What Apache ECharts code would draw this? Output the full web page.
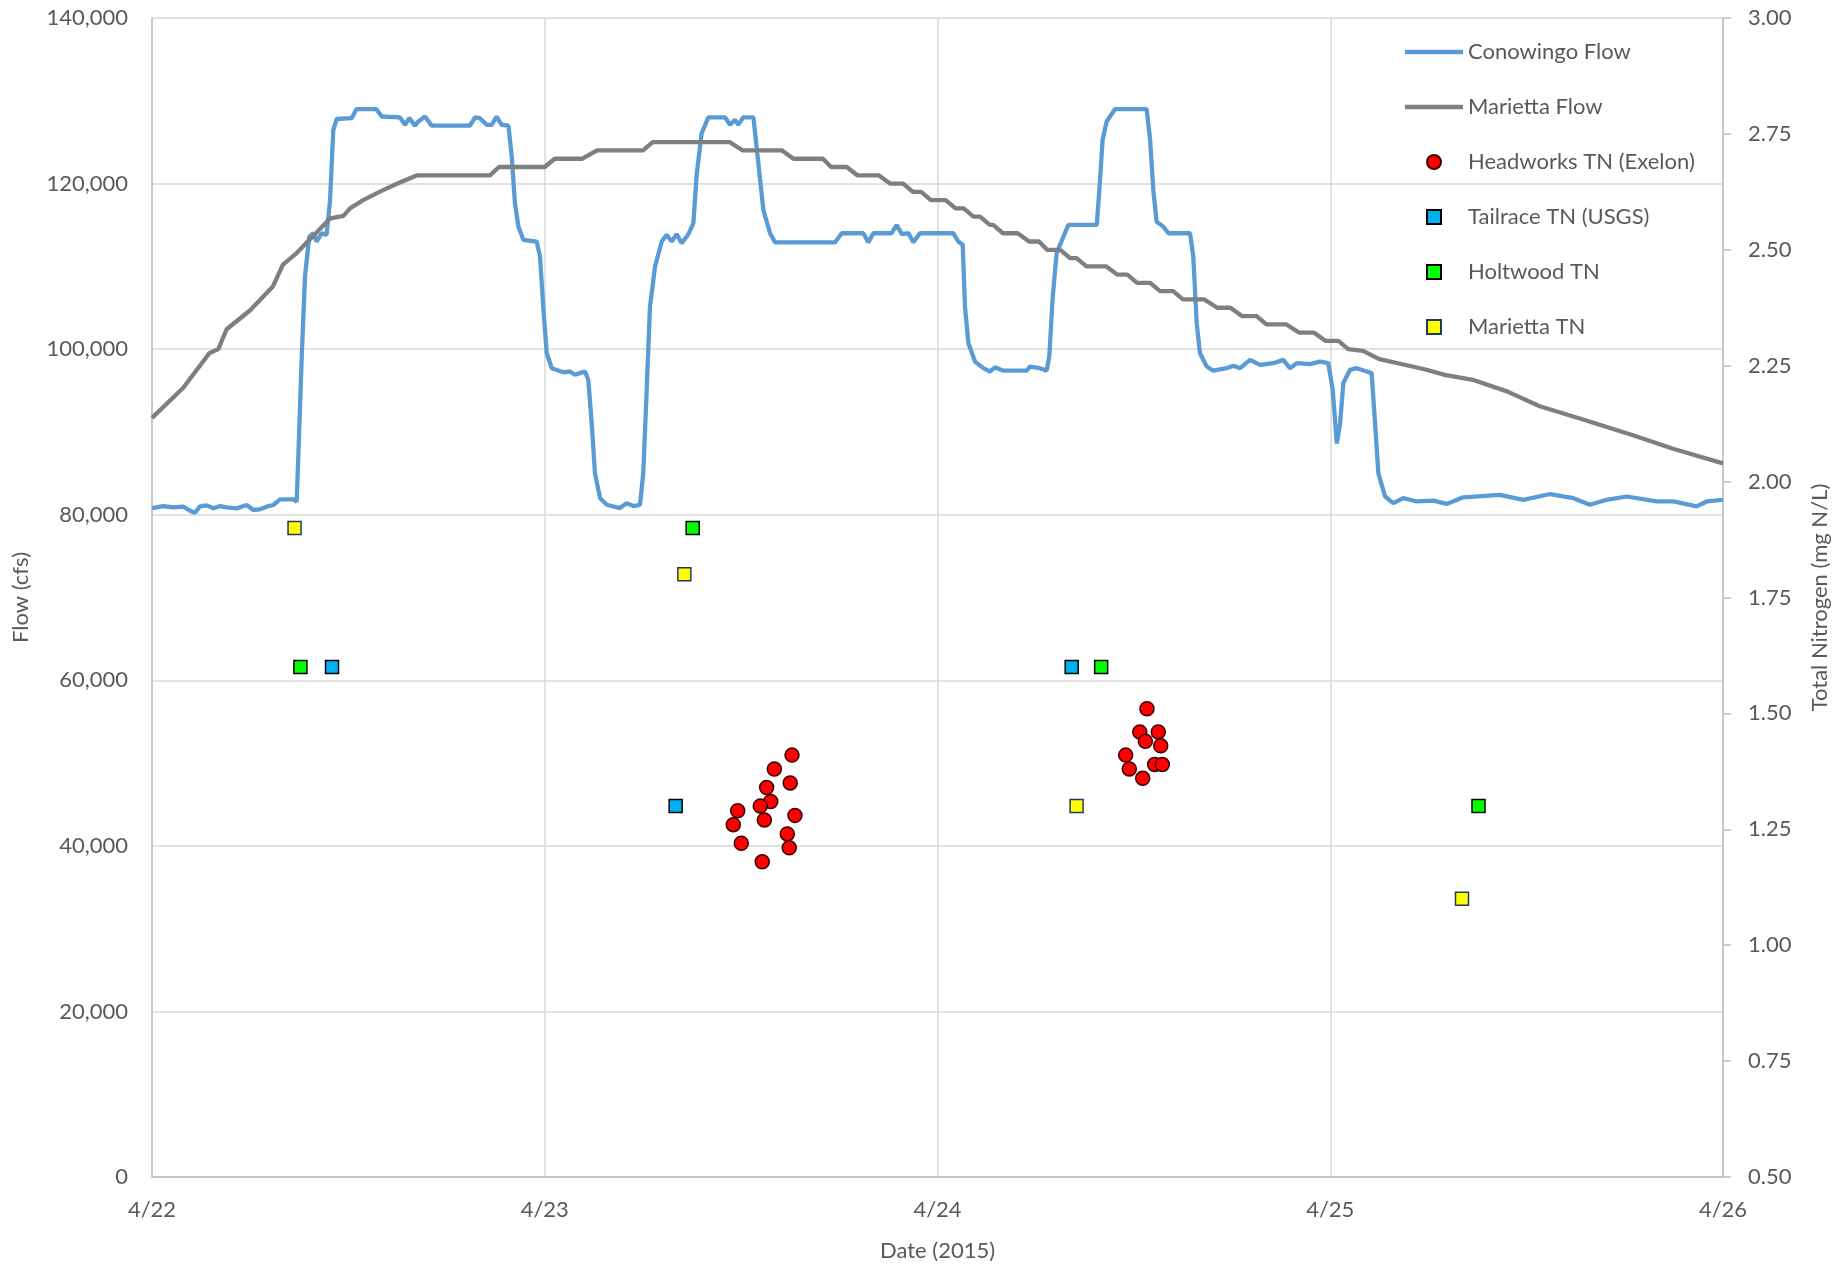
<!DOCTYPE html>
<html>
<head>
<meta charset="utf-8">
<title>Conowingo / Marietta flow and TN</title>
<script src="https://cdn.jsdelivr.net/npm/echarts@6.0.0/dist/echarts.min.js"></script>
<style>
  html, body { margin: 0; padding: 0; background: #fff; }
  #chart { width: 1847px; height: 1267px; }
</style>
</head>
<body>
<div id="chart"></div>
<script>
// x values are hours after 4/22 00:00
let dayLabels = ['4/22', '4/23', '4/24', '4/25', '4/26'];

// [hour, cfs]
let conowingoFlow = [
    [0, 80800], [0.69, 81050], [1.30, 80890], [1.91, 80970], [2.32, 80490], [2.63, 80240],
    [2.93, 81000], [3.34, 81130], [3.75, 80770], [4.16, 81050], [4.56, 80890], [5.18, 80770],
    [5.79, 81170], [6.19, 80570], [6.60, 80650], [7.01, 80970], [7.41, 81170], [7.82, 81860],
    [8.63, 81860], [8.84, 81570], [8.94, 87000], [9.15, 99100], [9.35, 108800], [9.61, 113600],
    [9.86, 114000], [10.06, 113000], [10.37, 114000], [10.67, 113800], [10.88, 118000], [11.08, 126500],
    [11.29, 127800], [12.2, 127900], [12.5, 129000], [13.7, 129000], [14.04, 128100], [15.15, 128000],
    [15.46, 127100], [15.72, 127900], [16.07, 127000], [16.27, 127500], [16.68, 128100], [17.09, 127000],
    [19.43, 127000], [19.74, 128000], [20.04, 127900], [20.45, 127100], [20.76, 127100], [21.06, 128100],
    [21.37, 127100], [21.78, 127000], [21.98, 123300], [22.18, 117600], [22.39, 114800], [22.69, 113200],
    [23.51, 113000], [23.71, 111200], [23.91, 105100], [24.12, 99500], [24.43, 97700], [25.13, 97200],
    [25.54, 97300], [25.85, 96900], [26.15, 97100], [26.46, 97300], [26.66, 96300], [26.87, 91000],
    [27.07, 85000], [27.38, 82000], [27.79, 81200], [28.6, 80800], [29.01, 81400], [29.41, 81050],
    [29.82, 81200], [30.02, 85000], [30.23, 95100], [30.43, 105100], [30.74, 110000], [31.15, 113000],
    [31.45, 113800], [31.76, 113000], [32.06, 113900], [32.37, 112800], [32.78, 113900], [33.08, 115200],
    [33.29, 121200], [33.59, 126100], [34.0, 128000], [35.02, 128000], [35.32, 127100], [35.63, 127700],
    [35.83, 127100], [36.13, 128000], [36.75, 128000], [37.05, 122500], [37.36, 116800], [37.77, 114000],
    [38.07, 112900], [40.21, 112900], [41.74, 112900], [42.15, 114000], [43.47, 114000], [43.77, 112900],
    [44.08, 114000], [45.2, 114000], [45.51, 115000], [45.81, 113900], [46.22, 114000], [46.52, 112900],
    [46.93, 114000], [48.97, 114000], [49.27, 113000], [49.54, 112600], [49.68, 105100], [49.89, 100700],
    [50.29, 98500], [50.80, 97700], [51.21, 97300], [51.51, 97800], [52.02, 97400], [53.45, 97400],
    [53.65, 97900], [54.26, 97700], [54.67, 97400], [54.83, 99100], [55.04, 106300], [55.28, 111600],
    [55.99, 115000], [57.73, 115000], [57.89, 119200], [58.09, 125300], [58.34, 127500], [58.85, 129000],
    [60.78, 129000], [60.99, 125300], [61.19, 119200], [61.39, 115400], [61.80, 114800], [62.11, 114000],
    [63.43, 114000], [63.63, 111200], [63.84, 103100], [64.04, 99500], [64.45, 97900], [64.85, 97400],
    [65.67, 97700], [66.08, 98000], [66.49, 97700], [67.1, 98700], [67.71, 98100], [68.52, 98300],
    [69.13, 98700], [69.54, 97700], [69.95, 98300], [70.76, 98200], [71.37, 98500], [71.88, 98300],
    [72.15, 95100], [72.4, 88600], [72.6, 91000], [72.8, 95900], [73.21, 97500], [73.62, 97700],
    [74.23, 97300], [74.53, 97100], [74.74, 91000], [74.94, 85000], [75.35, 82200], [75.85, 81400],
    [76.47, 82000], [77.28, 81600], [78.30, 81700], [79.11, 81300], [80.13, 82100], [82.37, 82400],
    [83.80, 81800], [85.43, 82500], [86.85, 82000], [87.87, 81200], [88.89, 81800], [90.11, 82200],
    [91.95, 81600], [92.97, 81600], [94.39, 81000], [95.0, 81600], [96.0, 81800]
];

let mariettaFlow = [
    [0, 91700], [1.9, 95300], [3.5, 99500], [4.05, 100000], [4.56, 102400], [6.0, 104700],
    [7.4, 107600], [8.0, 110200], [8.84, 111600], [10.9, 115800], [11.7, 116100], [12.1, 117000],
    [12.9, 118000], [13.9, 119000], [15.0, 120000], [16.2, 121000], [20.65, 121000], [21.2, 122000],
    [24.0, 122000], [24.6, 123000], [26.3, 123000], [27.2, 124000], [30.0, 124000], [30.6, 125000],
    [35.3, 125000], [36.1, 124000], [38.5, 124000], [39.2, 123000], [41.0, 123000], [41.5, 122000],
    [42.45, 122000], [43.1, 121000], [44.4, 121000], [45.1, 120000], [45.9, 120000], [46.5, 119000],
    [47.0, 119000], [47.6, 118000], [48.5, 118000], [49.1, 117000], [49.6, 117000], [50.2, 116000],
    [50.6, 116000], [51.2, 115000], [51.4, 115000], [52.0, 114000], [52.9, 114000], [53.6, 113000],
    [54.2, 113000], [54.7, 112000], [55.5, 112000], [56.1, 111000], [56.5, 111000], [57.1, 110000],
    [58.3, 110000], [59.0, 109000], [59.6, 109000], [60.2, 108000], [61.0, 108000], [61.6, 107000],
    [62.4, 107000], [63.0, 106000], [64.3, 106000], [65.1, 105000], [65.9, 105000], [66.6, 104000],
    [67.5, 104000], [68.1, 103000], [69.3, 103000], [70.1, 102000], [71.0, 102000], [71.7, 101000],
    [72.5, 101000], [73.1, 100000], [74.0, 99800], [75.0, 98800], [77.7, 97600], [79.0, 96900],
    [80.7, 96300], [82.8, 94900], [84.8, 93100], [87.3, 91600], [90.5, 89600], [92.9, 88000],
    [96, 86200]
];

// [hour, mg N/L]
let headworksTN = [
    [39.11, 1.41], [38.03, 1.38], [39.00, 1.35], [37.56, 1.34], [37.81, 1.31], [37.17, 1.30],
    [35.79, 1.29], [37.42, 1.27], [39.29, 1.28], [35.52, 1.26], [38.82, 1.24], [38.94, 1.21],
    [36.01, 1.22], [37.29, 1.18],
    [60.80, 1.51], [60.36, 1.46], [61.49, 1.46], [60.70, 1.44], [61.64, 1.43], [59.50, 1.41],
    [59.72, 1.38], [61.27, 1.39], [61.74, 1.39], [60.54, 1.36]
];
let tailraceTN = [[11.0, 1.60], [32.0, 1.30], [56.2, 1.60]];
let holtwoodTN = [[9.07, 1.60], [33.04, 1.90], [58.0, 1.60], [81.06, 1.30]];
let mariettaTN = [[8.71, 1.90], [32.53, 1.80], [56.5, 1.30], [80.05, 1.10]];

let textColor = '#595959';
let fontFamily = 'Lato';
let fontSize = 22;

// legend icons: a flat bar for the flow lines, a square for the TN samples
let lineIcon = 'path://M0,0 L58,0 L58,4.5 L0,4.5 Z';
let squareIcon = 'path://M0,0 L10,0 L10,10 L0,10 Z';

function scatter(name, data, symbol, size, fill, border) {
    return {
        name: name,
        type: 'scatter',
        yAxisIndex: 1,
        symbol: symbol,
        symbolSize: size,
        z: 5,
        itemStyle: {
            color: fill,
            borderColor: border,
            borderWidth: 1.5,
            opacity: 1
        },
        data: data
    };
}

let chart = echarts.init(document.getElementById('chart'));

chart.setOption({
    animation: false,
    backgroundColor: '#ffffff',
    textStyle: { fontFamily: fontFamily, color: textColor },
    grid: { left: 152, right: 124, top: 18, bottom: 90 },
    legend: {
        orient: 'vertical',
        left: 1400,
        top: 36,
        itemWidth: 58,
        itemHeight: 14,
        itemGap: 33,
        textStyle: { fontFamily: fontFamily, fontSize: fontSize, color: textColor, lineHeight: 22 },
        data: [
            { name: 'Conowingo Flow', icon: lineIcon },
            { name: 'Marietta Flow', icon: lineIcon },
            { name: 'Headworks TN (Exelon)', icon: 'circle' },
            { name: 'Tailrace TN (USGS)', icon: squareIcon },
            { name: 'Holtwood TN', icon: squareIcon },
            { name: 'Marietta TN', icon: squareIcon }
        ]
    },
    xAxis: {
        type: 'value',
        min: 0,
        max: 96,
        interval: 24,
        name: 'Date (2015)',
        nameLocation: 'middle',
        nameGap: 63,
        nameTextStyle: { fontFamily: fontFamily, fontSize: fontSize, color: textColor },
        axisLine: { show: true, lineStyle: { color: '#BFBFBF', width: 1.5 } },
        axisTick: { show: false },
        axisLabel: {
            margin: 22,
            fontSize: fontSize,
            color: textColor,
            formatter: v => dayLabels[Math.round(v / 24)]
        },
        splitLine: { show: true, lineStyle: { color: '#D9D9D9', width: 1.5 } }
    },
    yAxis: [
        {
            type: 'value',
            min: 0,
            max: 140000,
            interval: 20000,
            name: 'Flow (cfs)',
            nameLocation: 'middle',
            nameRotate: 90,
            nameGap: 120,
            nameTextStyle: { fontFamily: fontFamily, fontSize: fontSize, color: textColor },
            axisLine: { show: true, lineStyle: { color: '#BFBFBF', width: 1.5 } },
            axisTick: { show: false },
            axisLabel: {
                margin: 24,
                fontSize: fontSize,
                color: textColor,
                formatter: v => v.toLocaleString('en-US')
            },
            splitLine: { show: true, lineStyle: { color: '#D9D9D9', width: 1.5 } }
        },
        {
            type: 'value',
            position: 'right',
            min: 0.5,
            max: 3,
            interval: 0.25,
            name: 'Total Nitrogen (mg N/L)',
            nameLocation: 'middle',
            nameRotate: 90,
            nameGap: 86,
            nameTextStyle: { fontFamily: fontFamily, fontSize: fontSize, color: textColor },
            axisLine: { show: true, lineStyle: { color: '#BFBFBF', width: 1.5 } },
            axisTick: { show: true, length: 8, lineStyle: { color: '#BFBFBF', width: 1.5 } },
            axisLabel: {
                margin: 25,
                fontSize: fontSize,
                color: textColor,
                formatter: v => v.toFixed(2)
            },
            splitLine: { show: false }
        }
    ],
    series: [
        {
            name: 'Conowingo Flow',
            type: 'line',
            symbol: 'none',
            lineStyle: { color: '#5B9BD5', width: 4.3 },
            itemStyle: { color: '#5B9BD5' },
            data: conowingoFlow
        },
        {
            name: 'Marietta Flow',
            type: 'line',
            symbol: 'none',
            lineStyle: { color: '#7F7F7F', width: 4.3 },
            itemStyle: { color: '#7F7F7F' },
            data: mariettaFlow
        },
        scatter('Headworks TN (Exelon)', headworksTN, 'circle', 14, '#FF0000', '#3A0000'),
        scatter('Tailrace TN (USGS)', tailraceTN, 'rect', 13, '#00B0F0', '#000000'),
        scatter('Holtwood TN', holtwoodTN, 'rect', 13, '#00FF00', '#000000'),
        scatter('Marietta TN', mariettaTN, 'rect', 13, '#FFFF00', '#203864')
    ]
});
</script>
</body>
</html>
